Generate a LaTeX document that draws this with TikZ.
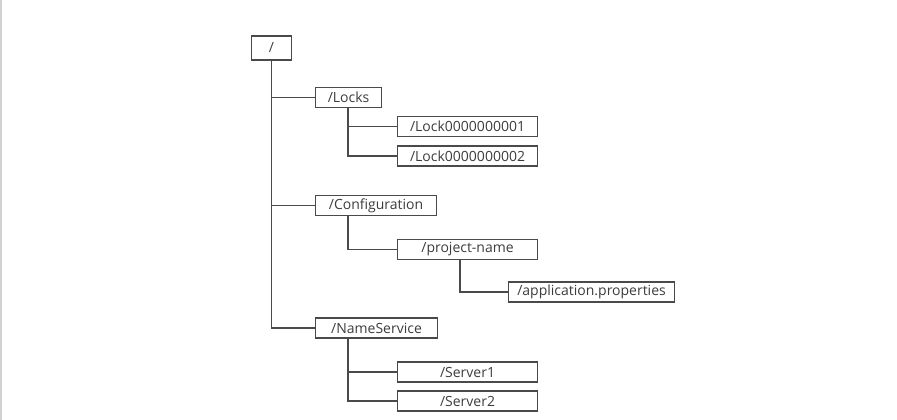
\documentclass[tikz,border=0pt]{standalone}
\usepackage{fontspec}
\setmainfont{Open Sans}
\usepackage{xcolor}
\usetikzlibrary{positioning}

\definecolor{linegray}{HTML}{4A4A4A}
\definecolor{textgray}{HTML}{3C3C3C}

\tikzset{
    znode/.style={draw=linegray, line width=1.1pt, anchor=west, inner sep=0pt,
        minimum height=20pt, text=textgray, font=\fontsize{14}{16}\selectfont},
    zlink/.style={draw=linegray, line width=1.1pt}
}

\begin{document}
\begin{tikzpicture}[x=1pt,y=-1pt]
    % Frame
    \useasboundingbox (0,0) rectangle (897,420);
    \draw[gray!35, line width=1.5pt] (0.75,0) -- (0.75,420);
    % Root
    \node[znode, minimum width=40pt, minimum height=24pt] (root) at (251,48) {/};
    % Locks
    \node[znode, minimum width=66pt] (locks) at (315,97.5) {/Locks};
    \node[znode, minimum width=140pt] (locka) at (397,126.5) {/Lock0000000001};
    \node[znode, minimum width=140pt] (lockb) at (397,156) {/Lock0000000002};
    % Configuration
    \node[znode, minimum width=121pt] (conf) at (315,205.5) {/Configuration};
    \node[znode, minimum width=140pt] (proj) at (397,249.5) {/project-name};
    \node[znode, minimum width=166pt] (app) at (508,292) {/application.properties};
    % NameService
    \node[znode, minimum width=122pt] (ns) at (315,328) {/NameService};
    \node[znode, minimum width=140pt] (srva) at (397,372) {/Server1};
    \node[znode, minimum width=140pt] (srvb) at (397,401) {/Server2};
    % Links
    \draw[zlink] (root.south) |- (locks.west) (root.south) |- (conf.west)
        (root.south) |- (ns.west);
    \draw[zlink] ([xshift=33pt]locks.south west) |- (locka.west)
        ([xshift=33pt]locks.south west) |- (lockb.west);
    \draw[zlink] ([xshift=33pt]conf.south west) |- (proj.west);
    \draw[zlink] ([xshift=63pt]proj.south west) |- (app.west);
    \draw[zlink] ([xshift=33pt]ns.south west) |- (srva.west)
        ([xshift=33pt]ns.south west) |- (srvb.west);
\end{tikzpicture}
\end{document}
